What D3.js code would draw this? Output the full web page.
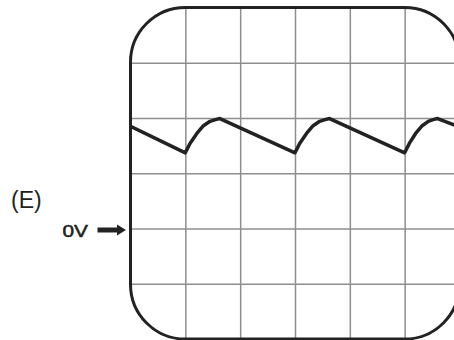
<!DOCTYPE html>
<meta charset="utf-8">
<script src="https://d3js.org/d3.v7.min.js"></script>
<style>
  body { margin: 0; background: #fff; }
  .grid line { stroke: #8e8e8e; stroke-width: 1.5; }
  .grid .domain { display: none; }
</style>
<div id="scope"></div>
<script>

// screen divisions (6 x 6), 0V sits two divisions above the bottom edge
var xTicks = [1, 2, 3, 4, 5]
var yTicks = [-1, 0, 1, 2, 3]

// trace: time in divisions, voltage in divisions
var traceT = [0, 1.0, 1.085, 1.21, 1.33, 1.45, 1.55, 1.63,
              3.0, 3.085, 3.21, 3.33, 3.45, 3.55, 3.63,
              5.0, 5.085, 5.2, 5.32, 5.43, 5.52, 5.6, 5.92]
var traceV = [1.85, 1.37, 1.54, 1.72, 1.86, 1.94, 1.97, 1.99,
              1.37, 1.54, 1.72, 1.86, 1.94, 1.97, 1.99,
              1.37, 1.54, 1.72, 1.86, 1.94, 1.97, 1.99, 1.87]

var width = 454
    height = 340

var x = d3.scaleLinear().domain([0, 6]).range([130.5, 459.5])
var y = d3.scaleLinear().domain([-2, 4]).range([339, 7.5])

var svg = d3.select("#scope")
  .append("svg")
    .attr("width", width)
    .attr("height", height)

var r = x(1) - x(0)

// clip everything inside the rounded screen
svg.append("clipPath")
    .attr("id", "screen")
  .append("rect")
    .attr("x", x(0))
    .attr("y", y(4))
    .attr("width", x(6) - x(0))
    .attr("height", y(-2) - y(4))
    .attr("rx", r)

var inside = svg.append("g").attr("clip-path", "url(#screen)")

// vertical grid lines
inside.append("g")
    .attr("class", "grid")
    .attr("transform", "translate(0," + y(-2) + ")")
    .call(d3.axisBottom(x).tickValues(xTicks).tickSize(-(y(-2) - y(4))).tickFormat(""))

// horizontal grid lines
inside.append("g")
    .attr("class", "grid")
    .attr("transform", "translate(" + x(0) + ",0)")
    .call(d3.axisLeft(y).tickValues(yTicks).tickSize(-(x(6) - x(0))).tickFormat(""))

// the trace
var line = d3.line()
  .x(function(d, i) { return x(traceT[i]) })
  .y(function(d, i) { return y(traceV[i]) })

inside.append("path")
    .datum(traceT)
    .attr("d", line)
    .attr("fill", "none")
    .attr("stroke", "#222")
    .attr("stroke-width", 3.5)
    .attr("stroke-linejoin", "round")

// screen frame
svg.append("rect")
    .attr("x", x(0))
    .attr("y", y(4))
    .attr("width", x(6) - x(0))
    .attr("height", y(-2) - y(4))
    .attr("rx", r)
    .attr("fill", "none")
    .attr("stroke", "#222")
    .attr("stroke-width", 3)

// 0V marker
var y0 = y(0) + 1.5
svg.append("path")
    .attr("d", "M97.5," + (y0 - 2.5) + "H117V" + (y0 - 5.5) + "L126," + y0 + "L117," + (y0 + 5.5) + "V" + (y0 + 2.5) + "H97.5Z")
    .attr("fill", "#222")

svg.append("text")
    .attr("x", 62.5)
    .attr("y", y0 + 6.5)
    .attr("textLength", 25.5)
    .attr("lengthAdjust", "spacingAndGlyphs")
    .style("font-family", "'Liberation Sans', Arial, sans-serif")
    .style("font-size", "17px")
    .style("fill", "#222")
    .style("stroke", "#222")
    .style("stroke-width", 0.5)
    .text("0V")

svg.append("text")
    .attr("x", 11)
    .attr("y", 207.5)
    .style("font-family", "'Liberation Sans', Arial, sans-serif")
    .style("font-size", "23px")
    .style("fill", "#222")
    .text("(E)")

</script>
